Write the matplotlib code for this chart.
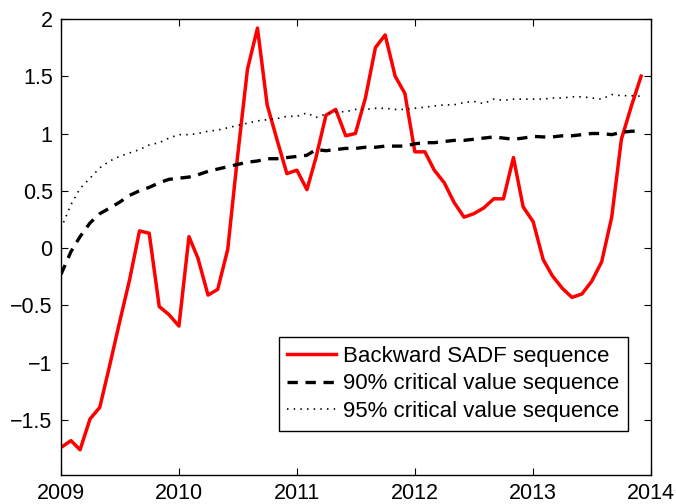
import matplotlib
matplotlib.use("Agg")
import matplotlib.pyplot as plt
import matplotlib.dates as mdates
import pandas as pd

plt.rcParams['font.family'] = ['Liberation Sans', 'DejaVu Sans']

# monthly observations, Jan 2009 - Dec 2013
dates = pd.date_range('2009-01-01', periods=60, freq='MS')

bsadf = [-1.74, -1.68, -1.76, -1.49, -1.39, -1.02, -0.65, -0.28, 0.15, 0.13,
         -0.51, -0.58, -0.68, 0.10, -0.09, -0.41, -0.36, -0.01, 0.79, 1.56,
         1.92, 1.25, 0.94, 0.65, 0.68, 0.51, 0.79, 1.16, 1.21, 0.98,
         1.00, 1.31, 1.75, 1.86, 1.50, 1.35, 0.84, 0.84, 0.68, 0.57,
         0.40, 0.27, 0.30, 0.35, 0.43, 0.43, 0.79, 0.36, 0.23, -0.10,
         -0.24, -0.35, -0.43, -0.40, -0.29, -0.12, 0.27, 0.95, 1.24, 1.50]

cv90 = [-0.23, -0.03, 0.10, 0.22, 0.30, 0.35, 0.40, 0.46, 0.50, 0.53,
        0.57, 0.60, 0.61, 0.62, 0.64, 0.67, 0.69, 0.71, 0.73, 0.75,
        0.76, 0.78, 0.78, 0.79, 0.80, 0.81, 0.86, 0.85, 0.86, 0.87,
        0.87, 0.88, 0.88, 0.89, 0.89, 0.89, 0.91, 0.92, 0.92, 0.93,
        0.94, 0.94, 0.95, 0.96, 0.97, 0.96, 0.95, 0.96, 0.975, 0.97,
        0.97, 0.98, 0.98, 0.99, 1.00, 1.00, 0.99, 1.01, 1.02, 1.02]

cv95 = [0.17, 0.38, 0.52, 0.61, 0.70, 0.76, 0.80, 0.83, 0.86, 0.90,
        0.92, 0.96, 0.99, 0.99, 1.00, 1.02, 1.03, 1.05, 1.07, 1.09,
        1.11, 1.12, 1.13, 1.15, 1.15, 1.18, 1.14, 1.17, 1.19, 1.19,
        1.21, 1.21, 1.22, 1.22, 1.21, 1.21, 1.22, 1.23, 1.24, 1.25,
        1.25, 1.27, 1.28, 1.26, 1.30, 1.29, 1.30, 1.30, 1.30, 1.30,
        1.31, 1.31, 1.32, 1.32, 1.31, 1.30, 1.34, 1.33, 1.33, 1.325]

fig = plt.figure(figsize=(6.76, 5.04), dpi=100)
ax = fig.add_axes([0.0902, 0.0575, 0.873, 0.905])

ax.plot(dates, bsadf, color='red', lw=2.5, label='Backward SADF sequence')
ax.plot(dates, cv90, color='black', lw=2.4, ls=(0, (3.1, 2.3)), label='90% critical value sequence')
ax.plot(dates, cv95, color='black', lw=1.2, ls=(0, (0.9, 3.1)), label='95% critical value sequence')

ax.set_xlim(pd.Timestamp('2009-01-01'), pd.Timestamp('2014-01-01'))
ax.set_ylim(-1.98, 2)
ax.xaxis.set_major_locator(mdates.YearLocator())
ax.xaxis.set_major_formatter(mdates.DateFormatter('%Y'))
ax.set_yticks([-1.5, -1, -0.5, 0, 0.5, 1, 1.5, 2])
ax.set_yticklabels(['\u22121.5', '\u22121', '\u22120.5', '0', '0.5', '1', '1.5', '2'])

ax.tick_params(direction='in', top=True, right=True, length=5, width=0.8, labelsize=15.5, pad=6)
for s in ax.spines.values():
    s.set_linewidth(1.0)

leg = ax.legend(loc='lower right', bbox_to_anchor=(0.961, 0.0965), borderaxespad=0,
                fontsize=16, fancybox=False, framealpha=1, edgecolor='black',
                handlelength=2.2, handletextpad=0.3, labelspacing=0.3, borderpad=0.4)
leg.get_frame().set_linewidth(1.0)

fig.savefig('out.png', dpi=100)
